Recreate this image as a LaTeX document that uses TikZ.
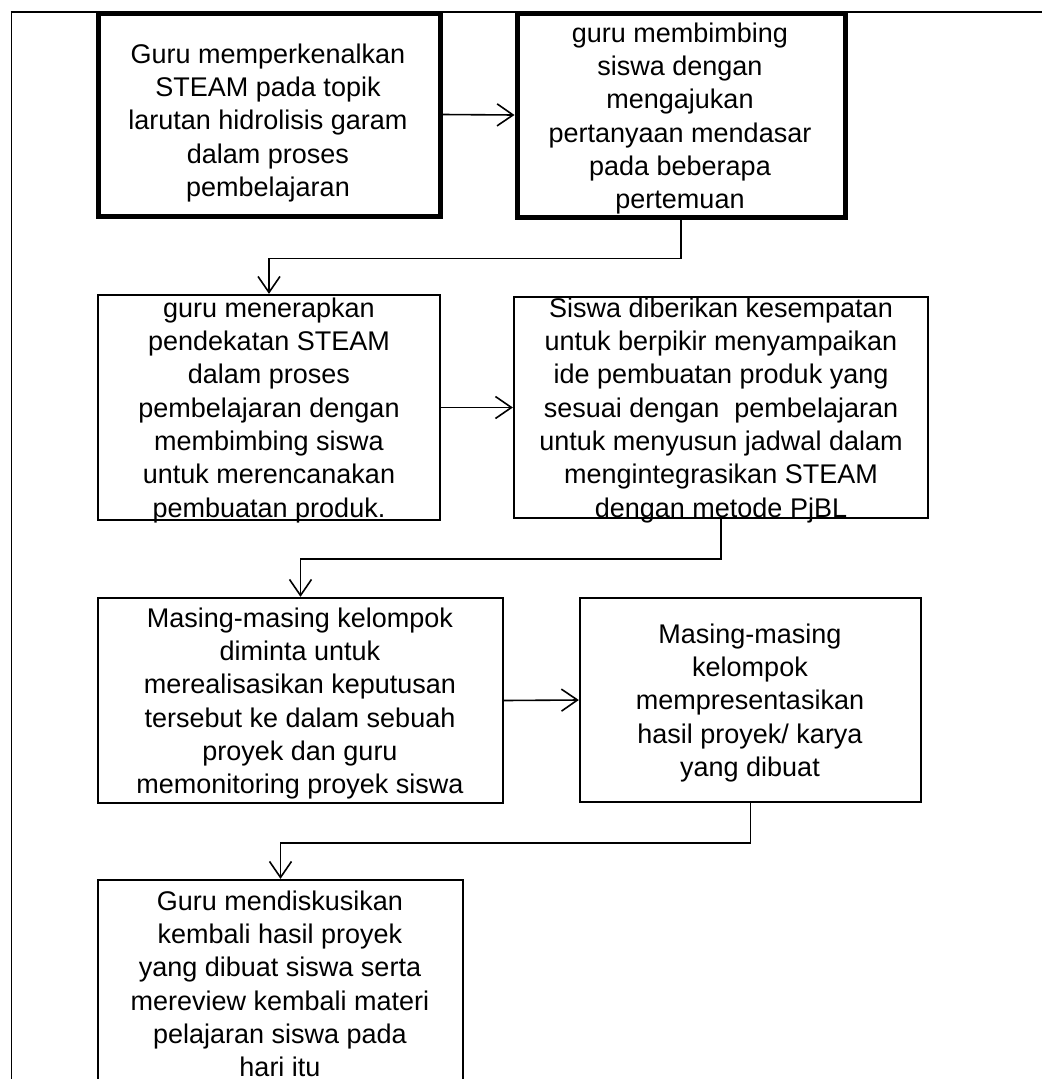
\documentclass[tikz,border=0pt]{standalone}
\usepackage{fontspec}
\setmainfont{Liberation Sans}
\usetikzlibrary{arrows.meta}
\tikzset{
  thinbox/.style={draw=black, line width=2.3pt, inner sep=0pt, fill=none},
  thickbox/.style={draw=black, line width=5pt, inner sep=0pt, fill=none},
  txt/.style={anchor=north, align=center, inner sep=0pt, font=\fontsize{27}{33.3}\selectfont},
  arr/.style={line width=1.6pt, -{Straight Barb[length=16pt,width=22pt,line width=1.6pt]}},
  conn/.style={line width=1.6pt}
}
\begin{document}
\begin{tikzpicture}[x=1pt,y=-1pt]
\clip (0,0) rectangle (1042,1079);
\fill[white] (0,0) rectangle (1042,1079);
% outer frame
\draw[line width=1pt] (11,1079) -- (11,12);
\draw[line width=2pt] (10.5,12) -- (1042,12);
% boxes
\node[thickbox, minimum width=342pt, minimum height=203pt] (b1) at (269,114.5) {};
\node[thickbox, minimum width=328pt, minimum height=204pt] (b2) at (681,115) {};
\node[thinbox, minimum width=342pt, minimum height=225pt] (b3) at (269,407.5) {};
\node[thinbox, minimum width=414pt, minimum height=221pt] (b4) at (721,407.5) {};
\node[thinbox, minimum width=405pt, minimum height=205pt] (b5) at (300.5,700.5) {};
\node[thinbox, minimum width=341pt, minimum height=204pt] (b6) at (750.5,700) {};
\node[thinbox, minimum width=365pt, minimum height=220pt] (b7) at (280.5,990) {};
% texts
\node[txt] (t1) at (268,43.5) {Guru memperkenalkan\\STEAM pada topik\\larutan hidrolisis garam\\dalam proses\\pembelajaran};
\node[txt] (t2) at (680,22.5) {guru membimbing\\siswa dengan\\mengajukan\\pertanyaan mendasar\\pada beberapa\\pertemuan};
\node[txt] (t3) at (269,297.5) {guru menerapkan\\pendekatan STEAM\\dalam proses\\pembelajaran dengan\\membimbing siswa\\untuk merencanakan\\pembuatan produk.};
\node[txt] (t4) at (721,297.5) {Siswa diberikan kesempatan\\untuk berpikir menyampaikan\\ide pembuatan produk yang\\sesuai dengan\ \ pembelajaran\\untuk menyusun jadwal dalam\\mengintegrasikan STEAM\\dengan metode PjBL};
\node[txt] (t5) at (300,607.5) {Masing-masing kelompok\\diminta untuk\\merealisasikan keputusan\\tersebut ke dalam sebuah\\proyek dan guru\\memonitoring proyek siswa};
\node[txt] (t6) at (750,623.5) {Masing-masing\\kelompok\\mempresentasikan\\hasil proyek/ karya\\yang dibuat};
\node[txt] (t7) at (280,890.5) {Guru mendiskusikan\\kembali hasil proyek\\yang dibuat siswa serta\\mereview kembali materi\\pelajaran siswa pada\\hari itu};
% connectors
\draw[arr] (b1.east) -- (b2.west);
\draw[arr] (b2.south) -- ++(0,39) -| (b3.north);
\draw[arr] (b3.east) -- (b4.west);
\draw[arr] (b4.south) -- ++(0,40) -| (b5.north);
\draw[arr] (b5.east) -- (b6.west);
\draw[arr] (b6.south) -- ++(0,40) -| (b7.north);
\end{tikzpicture}
\end{document}
